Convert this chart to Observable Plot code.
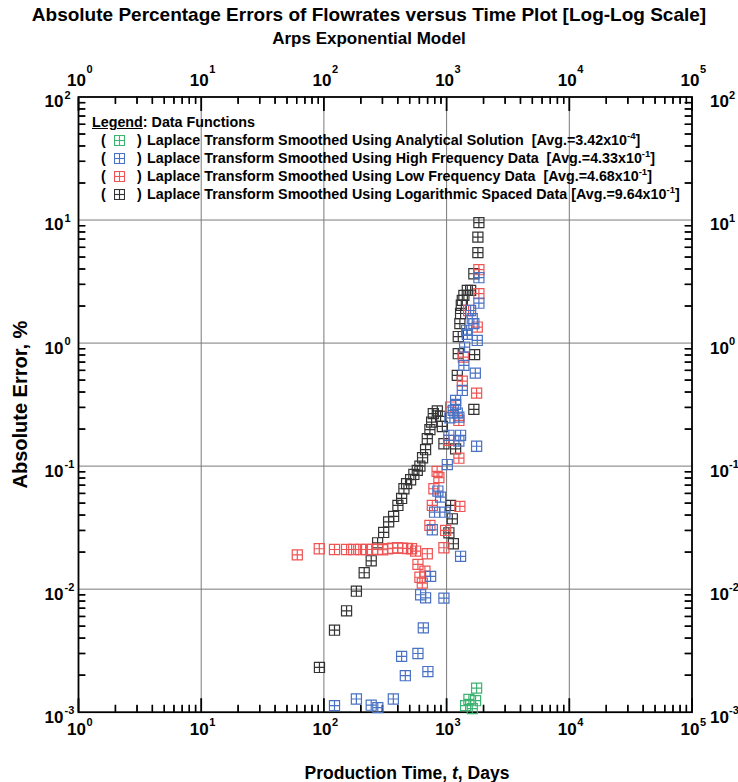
<!DOCTYPE html>
<html><head><meta charset="utf-8">
<script src="https://cdn.jsdelivr.net/npm/d3@7"></script>
<script src="https://cdn.jsdelivr.net/npm/@observablehq/plot@0.6"></script>
<style>
body{margin:0;background:#fff;font-family:"Liberation Sans",Arial,sans-serif;color:#000;}
#wrap{position:relative;width:738px;height:782px;overflow:hidden;}
#title{position:absolute;left:0;top:2px;width:738px;text-align:center;font-weight:bold;}
#t1{font-size:19px;line-height:26px;}
#t2{font-size:17px;line-height:22px;}
#chart{position:absolute;left:0;top:55px;}
#xlabel{position:absolute;left:38px;top:762px;width:738px;text-align:center;font-weight:bold;font-size:17.5px;line-height:22px;}
#legend{position:absolute;left:92px;top:113px;font-weight:bold;font-size:14.3px;line-height:18px;white-space:pre;}
.row{position:absolute;left:0;height:18px;}
.row span{position:absolute;top:0;}
.row svg{position:absolute;top:3.5px;}
sup{font-size:9.5px;vertical-align:0;position:relative;top:-6px;}
</style></head>
<body><div id="wrap">
<div id="title"><div id="t1">Absolute Percentage Errors of Flowrates versus Time Plot [Log-Log Scale]</div><div id="t2">Arps Exponential Model</div></div>
<div id="chart"></div>
<div id="legend"></div>
<div id="xlabel">Production Time, <i>t</i>, Days</div>
</div>
<script>
// ---- data ----
const logT = [92,122,153,184,213,243,274,307,337,370,401,430,449,472,509,541,577,606,637,674,696,731,755,779,840,893,923,951,1044,1078,1113,1135,1184,1222,1245,1245,1283,1300,1318,1343,1383,1475,1570,1668,1668,1691,1799,1799,1833];
const logE = [0.00231,0.00464,0.00667,0.00963,0.0136,0.0170,0.0238,0.0289,0.0352,0.0390,0.0479,0.0546,0.0655,0.0720,0.0775,0.0856,0.0923,0.100,0.117,0.136,0.167,0.198,0.228,0.267,0.281,0.254,0.210,0.152,0.0287,0.0479,0.0373,0.0234,0.138,0.546,0.820,1.13,1.44,1.74,2.03,2.22,2.44,2.68,2.68,3.66,0.289,0.805,5.43,7.27,9.52];

const lowT = [60.7,91.7,122,153,175,199,223,249,274,301,330,363,399,438,481,518,559,584,606,634,666,696,731,765,788,837,865,951,982,1044,1078,1259,1283,1259,1343,1368,1511,1778,1756,1833,1833];
const lowE = [0.0190,0.0213,0.0210,0.0210,0.0210,0.0210,0.0210,0.0210,0.0211,0.0209,0.0213,0.0215,0.0217,0.0215,0.0214,0.0213,0.0204,0.0159,0.0125,0.0112,0.0140,0.0194,0.0330,0.0479,0.0655,0.0906,0.0806,0.0217,0.0300,0.162,0.302,0.116,0.0470,0.235,0.491,0.769,1.84,1.35,0.392,2.52,3.95];

const highT = [122,184,243,275,368,430,461,584,646,704,614,674,951,741,1300,765,798,969,849,893,1013,1044,1300,1259,1756,1064,1222,1184,1134,1259,1184,1343,1383,1714,1402,1475,1778,1668,1619,1569,1456,1833,1833];
const highE = [0.00113,0.00128,0.00114,0.00109,0.00128,0.00284,0.00198,0.00300,0.00485,0.00214,0.00901,0.00851,0.00845,0.0127,0.0185,0.0304,0.0422,0.0422,0.0627,0.0560,0.103,0.178,0.178,0.160,0.145,0.247,0.270,0.317,0.284,0.250,0.342,0.412,0.659,0.570,0.928,1.18,1.05,1.44,1.58,1.84,1.27,2.11,3.40];

const anaT = [1756,1520,1722,1429,1619];
const anaE = [0.00157,0.00127,0.00124,0.00113,0.00107];

const seriesNames = ["Laplace Transform Smoothed Using Analytical Solution","Laplace Transform Smoothed Using High Frequency Data","Laplace Transform Smoothed Using Low Frequency Data","Laplace Transform Smoothed Using Logarithmic Spaced Data"];
const seriesAvgMant = ["3.42","4.33","4.68","9.64"];
const seriesAvgExp = ["-4","-1","-1","-1"];
const seriesGap = ["  ","  ","  "," "];
const seriesColors = ["#3cb371","#4a72c4","#ef5454","#333333"];

const xTicks = [1,10,100,1000,10000,100000];
const xTickExp = ["0","1","2","3","4","5"];
const yTicks = [0.001,0.01,0.1,1,10,100];
const yTickExp = ["-3","-2","-1","0","1","2"];
const xGrid = [10,100,1000,10000];
const yGrid = [0.01,0.1,1,10];
const xMinor = [2,3,4,5,6,7,8,9,20,30,40,50,60,70,80,90,200,300,400,500,600,700,800,900,2000,3000,4000,5000,6000,7000,8000,9000,20000,30000,40000,50000,60000,70000,80000,90000];
const yMinor = [0.002,0.003,0.004,0.005,0.006,0.007,0.008,0.009,0.02,0.03,0.04,0.05,0.06,0.07,0.08,0.09,0.2,0.3,0.4,0.5,0.6,0.7,0.8,0.9,2,3,4,5,6,7,8,9,20,30,40,50,60,70,80,90];
const xMin = 1, xMax = 1e5, yMin = 1e-3, yMax = 1e2;

// ---- layout ----
const W = 738, H = 700, mL = 78, mR = 46.5, mT = 41.5, mB = 43.3;
const innerW = W - mL - mR, innerH = H - mT - mB;
const minorLen = 7, majorLen = 14;
// tick lengths expressed as multiplicative steps on the log scales
const decX = innerW / Math.log10(xMax / xMin), decY = innerH / Math.log10(yMax / yMin);
const kxMinor = Math.pow(10, minorLen / decX);
const kyMinor = Math.pow(10, minorLen / decY), kyMajor = Math.pow(10, majorLen / decY);

// ---- marker: square with a cross ----
const boxCross = {
  draw(ctx, size) {
    const s = Math.sqrt(size) / 2;
    ctx.moveTo(-s, -s); ctx.lineTo(s, -s); ctx.lineTo(s, s); ctx.lineTo(-s, s); ctx.closePath();
    ctx.moveTo(0, -s); ctx.lineTo(0, s);
    ctx.moveTo(-s, 0); ctx.lineTo(s, 0);
  }
};

const font = "'Liberation Sans', Arial, sans-serif";
const dotOpts = (c) => ({symbol: boxCross, r: 5.7, stroke: c, strokeWidth: 1.2, fill: "none"});
const tk = (w) => ({stroke: "black", strokeWidth: w});

const chart = Plot.plot({
  width: W, height: H,
  marginLeft: mL, marginRight: mR, marginTop: mT, marginBottom: mB,
  x: {type: "log", domain: [xMin, xMax], axis: null},
  y: {type: "log", domain: [yMin, yMax], axis: null},
  style: {fontFamily: font},
  marks: [
    Plot.ruleX(xGrid, {x: d => d, stroke: "#7a7a7a", strokeWidth: 1}),
    Plot.ruleY(yGrid, {y: d => d, stroke: "#7a7a7a", strokeWidth: 1}),
    // inward ticks along the frame
    Plot.link(xMinor, {x1: d => d, x2: d => d, y1: () => yMin, y2: () => yMin * kyMinor, ...tk(1.4)}),
    Plot.link(xTicks, {x1: d => d, x2: d => d, y1: () => yMin, y2: () => yMin * kyMajor, ...tk(1.8)}),
    Plot.link(xMinor, {x1: d => d, x2: d => d, y1: () => yMax, y2: () => yMax / kyMinor, ...tk(1.4)}),
    Plot.link(xTicks, {x1: d => d, x2: d => d, y1: () => yMax, y2: () => yMax / kyMajor, ...tk(1.8)}),
    Plot.link(yMinor, {y1: d => d, y2: d => d, x1: () => xMin, x2: () => xMin * kxMinor, ...tk(1.4)}),
    Plot.link(yMinor, {y1: d => d, y2: d => d, x1: () => xMax, x2: () => xMax / kxMinor, ...tk(1.4)}),
    Plot.ruleX(xMinor, {x: d => d, insetTop: innerH - minorLen, ...tk(1.4)}),
    Plot.ruleX(xMinor, {x: d => d, insetBottom: innerH - minorLen, ...tk(1.4)}),
    Plot.ruleY(yMinor, {y: d => d, insetRight: innerW - minorLen, ...tk(1.4)}),
    Plot.ruleY(yMinor, {y: d => d, insetLeft: innerW - minorLen, ...tk(1.4)}),
    Plot.frame({stroke: "black", strokeWidth: 1.8}),
    Plot.dot(logT, {x: logT, y: logE, ...dotOpts(seriesColors[3])}),
    Plot.dot(lowT, {x: lowT, y: lowE, ...dotOpts(seriesColors[2])}),
    Plot.dot(highT, {x: highT, y: highE, ...dotOpts(seriesColors[1])}),
    Plot.dot(anaT, {x: anaT, y: anaE, ...dotOpts(seriesColors[0])}),
    // bottom tick labels
    Plot.text(xTicks, {x: d => d, frameAnchor: "bottom", dy: 23, dx: -2, text: () => "10", fontSize: 17, fontWeight: "bold", textAnchor: "middle", fill: "black"}),
    Plot.text(xTicks, {x: d => d, frameAnchor: "bottom", dy: 14, dx: 8, text: (d, i) => xTickExp[i], fontSize: 11, fontWeight: "bold", textAnchor: "start", fill: "black"}),
    // top tick labels
    Plot.text(xTicks, {x: d => d, frameAnchor: "top", dy: -23, dx: -2, text: () => "10", fontSize: 17, fontWeight: "bold", textAnchor: "middle", fill: "black"}),
    Plot.text(xTicks, {x: d => d, frameAnchor: "top", dy: -32, dx: 8, text: (d, i) => xTickExp[i], fontSize: 11, fontWeight: "bold", textAnchor: "start", fill: "black"}),
    // left tick labels
    Plot.text(yTicks, {y: d => d, frameAnchor: "left", dx: -15, dy: 5, text: () => "10", fontSize: 17, fontWeight: "bold", textAnchor: "end", fill: "black"}),
    Plot.text(yTicks, {y: d => d, frameAnchor: "left", dx: -14, dy: -2, text: (d, i) => yTickExp[i], fontSize: 11, fontWeight: "bold", textAnchor: "start", fill: "black"}),
    // right tick labels
    Plot.text(yTicks, {y: d => d, frameAnchor: "right", dx: 18, dy: 5, text: () => "10", fontSize: 17, fontWeight: "bold", textAnchor: "start", fill: "black"}),
    Plot.text(yTicks, {y: d => d, frameAnchor: "right", dx: 37, dy: -2, text: (d, i) => yTickExp[i], fontSize: 11, fontWeight: "bold", textAnchor: "start", fill: "black"}),
    // y label
    Plot.text(["Absolute Error, %"], {frameAnchor: "left", dx: -58, rotate: -90, fontSize: 20, fontWeight: "bold", textAnchor: "middle", fill: "black", text: d => d})
  ]
});
chart.style.overflow = "visible";
document.getElementById("chart").appendChild(chart);

// ---- legend ----
const leg = document.getElementById("legend");
const head = document.createElement("div");
head.className = "row"; head.style.top = "0px";
head.innerHTML = '<span style="left:0"><u>Legend</u>: Data Functions</span>';
leg.appendChild(head);
seriesNames.forEach((name, i) => {
  const r = document.createElement("div");
  r.className = "row"; r.style.top = (18 * (i + 1)) + "px";
  const c = seriesColors[i];
  r.innerHTML =
    '<span style="left:9px">(</span>' +
    `<svg width="11" height="11" style="left:22px"><rect x="0.5" y="0.5" width="10" height="10" fill="none" stroke="${c}" stroke-width="1.1"/><line x1="5.5" y1="0.5" x2="5.5" y2="10.5" stroke="${c}" stroke-width="1.1"/><line x1="0.5" y1="5.5" x2="10.5" y2="5.5" stroke="${c}" stroke-width="1.1"/></svg>` +
    '<span style="left:45px">)</span>' +
    `<span style="left:55px">${name}${seriesGap[i]}[Avg.=${seriesAvgMant[i]}x10<sup>${seriesAvgExp[i]}</sup>]</span>`;
  leg.appendChild(r);
});
</script>
</body></html>
